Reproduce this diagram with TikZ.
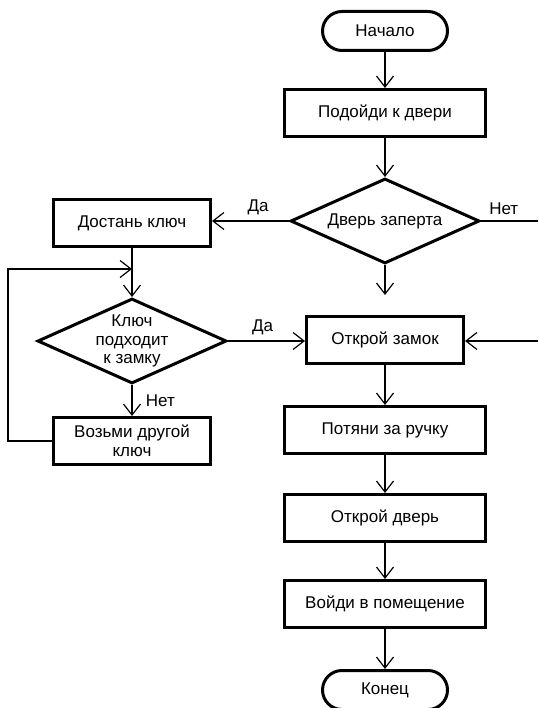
\documentclass[tikz,border=0pt]{standalone}
\usepackage{fontspec}
\setmainfont{Liberation Sans}
\usetikzlibrary{arrows.meta,shapes.geometric}

\begin{document}
\begin{tikzpicture}[x=1pt,y=-1pt]
  \tikzset{
    every node/.style={font=\fontsize{17}{18.5}\selectfont},
    block/.style={draw,line width=3pt,minimum width=201pt,minimum height=47pt,inner sep=0pt,align=center},
    term/.style={draw,line width=3pt,minimum width=125pt,minimum height=39pt,rounded corners=19.5pt,inner sep=0pt},
    cond/.style={draw,diamond,line width=3pt,minimum width=189pt,minimum height=85pt,inner sep=0pt},
    arr/.style={-{Straight Barb[length=11pt,width=17pt]},line width=1.2pt},
    wire/.style={line width=1.2pt}
  }
  \useasboundingbox (0,0) rectangle (538,708);
  \node[term] (start) at (385,31) {Начало};
  \node[block] (go) at (385,113) {Подойди к двери};
  \node[cond,label={center:Дверь заперта}] (locked) at (385,221) {};
  \node[block,minimum width=157pt] (getkey) at (132,223) {Достань ключ};
  \node[cond,label={[align=center]center:Ключ\\подходит\\к замку}] (fits) at (132,341) {};
  \node[block,minimum width=157pt] (other) at (132,441) {Возьми другой\\ключ};
  \node[block,minimum width=157pt] (unlock) at (385,340) {Открой замок};
  \node[block] (pull) at (385,430) {Потяни за ручку};
  \node[block] (open) at (385,518) {Открой дверь};
  \node[block] (enter) at (385,604) {Войди в помещение};
  \node[term] (finish) at (385,690) {Конец};
  \coordinate (edge) at (538,0);
  \coordinate (stub) at (385,295);
  \coordinate (back) at (538,341);
  \path (getkey.south) ++(0,21) coordinate (join);
  \draw[arr] (start) -- (go);
  \draw[arr] (go) -- (locked);
  \draw[arr] (locked.west) -- (locked.west -| getkey.east) node[pos=.4,above=2pt]{Да};
  \draw[wire] (locked.east) -- (locked.east -| edge) node[pos=.4,above=2pt]{Нет};
  \draw[arr] (locked) -- (stub);
  \draw[arr] (getkey) -- (fits);
  \draw[arr] (fits.east) -- (fits.east -| unlock.west) node[pos=.45,above=2pt]{Да};
  \draw[arr] (fits) -- (other) node[midway,right=10pt]{Нет};
  \draw[arr] (other.west) -- ++(-44,0) |- (join);
  \draw[arr] (back) -- (back -| unlock.east);
  \draw[arr] (unlock) -- (pull);
  \draw[arr] (pull) -- (open);
  \draw[arr] (open) -- (enter);
  \draw[arr] (enter) -- (finish);
\end{tikzpicture}
\end{document}
